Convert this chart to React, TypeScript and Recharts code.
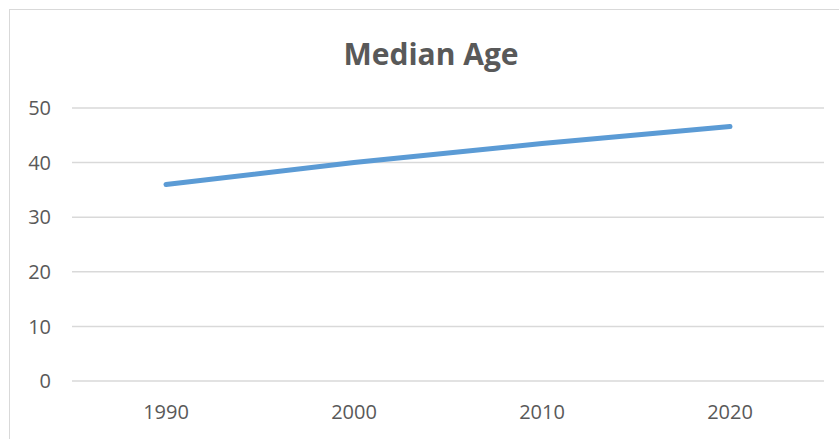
import React from "react";
import {
  LineChart,
  Line,
  XAxis,
  YAxis,
  CartesianGrid,
} from "recharts";

const years = ["1990", "2000", "2010", "2020"];
const medianAge = [36, 40, 43.5, 46.6];
const yTicks = [0, 10, 20, 30, 40, 50];

const TEXT = "#595959";
const GRID = "#d9d9d9";
const LINE = "#5b9bd5";
const FONT = "'Open Sans', sans-serif";

export default function App() {
  const data = years.map((year, i) => ({ year, age: medianAge[i] }));

  return (
    <div
      style={{
        position: "absolute",
        left: 0,
        top: 0,
        width: 839,
        height: 439,
        overflow: "hidden",
        background: "#fff",
        fontFamily: FONT,
      }}
    >
      {/* chart frame */}
      <div
        style={{
          position: "absolute",
          left: 9,
          top: 9,
          width: 860,
          height: 460,
          border: `1.5px solid ${GRID}`,
        }}
      />
      <div
        style={{
          position: "absolute",
          left: 0,
          top: 34,
          width: 862,
          textAlign: "center",
          fontSize: 30,
          fontWeight: 700,
          color: TEXT,
          lineHeight: "40px",
        }}
      >
        Median Age
      </div>
      <LineChart
        width={839}
        height={439}
        data={data}
        margin={{ top: 108, right: 15, bottom: 18, left: 12 }}
        style={{ position: "absolute", left: 0, top: 0 }}
      >
        <CartesianGrid vertical={false} stroke={GRID} strokeWidth={1.5} />
        <XAxis
          dataKey="year"
          scale="band"
          axisLine={false}
          tickLine={false}
          tickSize={0}
          tickMargin={24}
          height={40}
          tick={{ fill: TEXT, fontSize: 20, fontFamily: FONT }}
        />
        <YAxis
          domain={[0, 50]}
          ticks={yTicks}
          axisLine={false}
          tickLine={false}
          tickSize={0}
          tickMargin={21}
          width={60}
          tick={{ fill: TEXT, fontSize: 20, fontFamily: FONT }}
        />
        <Line
          type="linear"
          dataKey="age"
          stroke={LINE}
          strokeWidth={5}
          strokeLinecap="round"
          dot={false}
          activeDot={false}
          isAnimationActive={false}
        />
      </LineChart>
    </div>
  );
}
